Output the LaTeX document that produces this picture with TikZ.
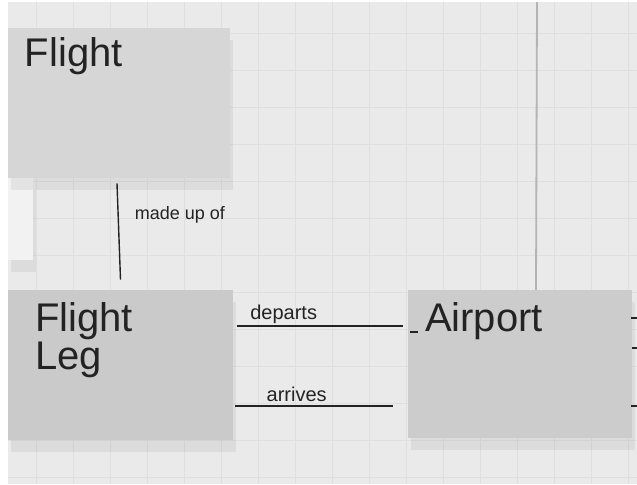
\documentclass[tikz,border=0pt]{standalone}
\usepackage{fontspec}
\setmainfont{Liberation Sans}
\usetikzlibrary{positioning,shadows}
\definecolor{papergray}{RGB}{234,234,234}
\definecolor{gridgray}{RGB}{223,223,223}
\definecolor{foldgray}{RGB}{180,180,180}
\definecolor{noteflight}{RGB}{214,214,214}
\definecolor{noteleg}{RGB}{202,202,202}
\definecolor{noteair}{RGB}{204,204,204}
\definecolor{notewhite}{RGB}{242,242,242}
\definecolor{inkblack}{RGB}{35,35,35}
\tikzset{
  notebox/.style={
    rectangle, draw=none, inner sep=0pt,
    drop shadow={opacity=0.13, shadow xshift=1.5pt, shadow yshift=-6pt}
  },
  notelabel/.style={
    font=\fontsize{20}{19}\selectfont, text=inkblack,
    align=left, inner sep=0pt
  },
  linkline/.style={draw=inkblack, line width=0.7pt},
  linklabel/.style={font=\fontsize{10}{12}\selectfont, text=inkblack, inner sep=1pt},
}

\begin{document}
\begin{tikzpicture}[x=0.5pt, y=-0.5pt]
\useasboundingbox (0,0) rectangle (637,484);

%% -- grid paper --------------------------------------------------------
\fill[white] (0,0) rectangle (637,484);
\fill[papergray] (8,2) rectangle (637,484);
\foreach \gx in {36,73,...,628}
  \draw[gridgray, line width=0.4pt] (\gx,2) -- (\gx,484);
\foreach \gy in {33,70,...,477}
  \draw[gridgray, line width=0.4pt] (8,\gy) -- (637,\gy);
\draw[foldgray, line width=0.9pt] (537,2) -- (536,290);

%% -- sticky notes ------------------------------------------------------
\node[notebox, fill=notewhite, minimum width=12.5pt, minimum height=41pt]
  (sidenote) at (20.5,219) {};
\node[notebox, fill=noteflight, minimum width=111pt, minimum height=75pt]
  (flight) at (119,103) {};
\node[notebox, fill=noteleg, minimum width=112.5pt, minimum height=75pt]
  (leg) at (120.5,365) {};
\node[notebox, fill=noteair, minimum width=112pt, minimum height=74pt]
  (airport) at (520,364) {};

%% -- note titles -------------------------------------------------------
\node[notelabel, below right=5pt and 8.5pt of flight.north west] (flighttitle) {Flight};
\node[notelabel, below right=6.5pt and 13.5pt of leg.north west] (legtitle) {Flight\\Leg};
\node[notelabel, below right=6.5pt and 8.5pt of airport.north west] (airporttitle) {Airport};

%% -- relationships -----------------------------------------------------
\draw[linkline] ([xshift=-1pt,yshift=-2.5pt]flight.south)
  -- node[linklabel, pos=0.33, right=7pt, font=\fontsize{9}{11}\selectfont] (madeup) {made up of}
  ([xshift=0pt,yshift=5pt]leg.north);
\draw[linkline] ([xshift=2pt,yshift=19.5pt]leg.east)
  -- node[linklabel, pos=0.28, above=0pt] (departs) {departs}
  ([xshift=-2.5pt,yshift=19pt]airport.west);
\draw[linkline] ([xshift=1pt,yshift=16pt]airport.west) -- ++(8,0);
\draw[linkline] ([xshift=1pt,yshift=-20.5pt]leg.east)
  -- node[linklabel, pos=0.39, above=1pt] (arrives) {arrives}
  ([xshift=-7.5pt,yshift=-21pt]airport.west);

%% -- marks at the right edge -------------------------------------------
\draw[linkline] (631,318) -- (637,318);
\draw[linkline] (632,348) -- (637,348);
\draw[linkline] (631,406) -- (637,406);

\end{tikzpicture}
\end{document}
